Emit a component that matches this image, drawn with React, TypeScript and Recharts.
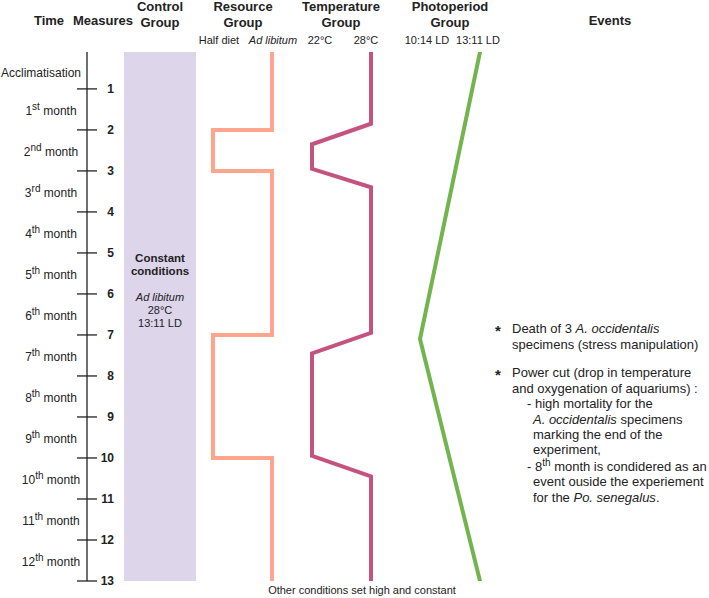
import { ComposedChart, Scatter, XAxis, YAxis, ReferenceArea } from 'recharts';

// measure axis
const START = 0.1;
const MEASURES = [1, 2, 3, 4, 5, 6, 7, 8, 9, 10, 11, 12, 13];
const PERIODS = ['Acclimatisation', '1st', '2nd', '3rd', '4th', '5th', '6th', '7th', '8th', '9th', '10th', '11th', '12th'];
const PERIOD_MIDS = PERIODS.map((_, i) => ((i === 0 ? START : MEASURES[i - 1]) + MEASURES[i]) / 2);

// resource group: 0 = half diet, 1 = ad libitum
const RESOURCE_M = [START, 2, 2, 3, 3, 7, 7, 10, 10, 13];
const RESOURCE_LEVEL = [1, 1, 0, 0, 1, 1, 0, 0, 1, 1];

// temperature group (°C)
const TEMP_M = [START, 1.85, 2.35, 2.95, 3.4, 6.95, 7.45, 9.95, 10.45, 13];
const TEMP_C = [28, 28, 22, 22, 28, 28, 22, 22, 28, 28];

// photoperiod group (hours of light)
const PHOTO_M = [START, 7.1, 13];
const PHOTO_LIGHT = [13, 10, 13];

const resourceData = RESOURCE_M.map((m, i) => ({ m, x: RESOURCE_LEVEL[i] }));
const tempData = TEMP_M.map((m, i) => ({ m, x: TEMP_C[i] }));
const photoData = PHOTO_M.map((m, i) => ({ m, x: PHOTO_LIGHT[i] }));
const axisTicks = [...MEASURES, ...PERIOD_MIDS].sort((a, b) => a - b);

const W = 709;
const H = 598;
const Y_AXIS_W = 30;
const MARGIN = { top: 52, right: 0, bottom: 17, left: 87 - Y_AXIS_W };
const PLOT_LEFT = MARGIN.left + Y_AXIS_W;
const PLOT_W = W - PLOT_LEFT - MARGIN.right;
const FONT = '"Liberation Sans", Arial, sans-serif';
const INK = '#222';

const COL_CONTROL = '#DDD5EA';
const COL_RESOURCE = '#FFA58D';
const COL_TEMP = '#C4547F';
const COL_PHOTO = '#74B44F';

// place lowVal at lowPx and highVal at highPx on a hidden axis
function domainFor(lowVal: number, highVal: number, lowPx: number, highPx: number): [number, number] {
  const pxPerUnit = (highPx - lowPx) / (highVal - lowVal);
  const a = lowVal - (lowPx - PLOT_LEFT) / pxPerUnit;
  return [a, a + PLOT_W / pxPerUnit];
}

const EmptyShape = () => <g />;

function AxisTick(props: any) {
  const { x, y, payload } = props;
  const v = payload.value;
  if (Number.isInteger(v)) {
    return (
      <g>
        <line x1={x - 10} x2={x + 10} y1={y} y2={y} stroke={INK} strokeWidth={1.3} />
        <text x={x + 27} y={y} dy="0.35em" textAnchor="end" fontWeight="bold" fontSize={12} fill={INK} fontFamily={FONT}>
          {v}
        </text>
      </g>
    );
  }
  const index = PERIOD_MIDS.indexOf(v);
  const label = PERIODS[index];
  if (index === 0) {
    return (
      <text x={x - 6} y={y + 2} dy="0.35em" textAnchor="end" fontSize={12} fill={INK} fontFamily={FONT}>
        {label}
      </text>
    );
  }
  const num = label.replace(/\D+$/, '');
  const sup = label.slice(num.length);
  return (
    <text x={x - 36} y={y + 1} dy="0.35em" textAnchor="middle" fontSize={12} fill={INK} fontFamily={FONT}>
      {num}
      <tspan fontSize={10} dy={-5}>{sup}</tspan>
      <tspan dy={5}> month</tspan>
    </text>
  );
}

function T(props: any) {
  const { children, ...rest } = props;
  return (
    <text dominantBaseline="central" fill={INK} fontFamily={FONT} {...rest}>
      {children}
    </text>
  );
}

function Overlay() {
  const hb = { fontSize: 13, fontWeight: 'bold', textAnchor: 'middle' };
  const sub = { fontSize: 11, textAnchor: 'middle' };
  const ev = { fontSize: 13 };
  return (
    <svg width={W} height={H} style={{ position: 'absolute', left: 0, top: 0, pointerEvents: 'none' }}>
      <T x={49} y={20} {...hb}>Time</T>
      <T x={103} y={20} {...hb}>Measures</T>
      <T x={160} y={6} {...hb}>Control</T>
      <T x={160} y={22} {...hb}>Group</T>
      <T x={243} y={6} {...hb}>Resource</T>
      <T x={243} y={22} {...hb}>Group</T>
      <T x={341} y={6} {...hb}>Temperature</T>
      <T x={341} y={22} {...hb}>Group</T>
      <T x={450} y={6} {...hb}>Photoperiod</T>
      <T x={450} y={22} {...hb}>Group</T>
      <T x={610} y={20} {...hb}>Events</T>

      <T x={219} y={40} {...sub}>Half diet</T>
      <T x={273} y={40} {...sub} fontStyle="italic">Ad libitum</T>
      <T x={320} y={40} {...sub}>22°C</T>
      <T x={366} y={40} {...sub}>28°C</T>
      <T x={427} y={40} {...sub}>10:14 LD</T>
      <T x={478} y={40} {...sub}>13:11 LD</T>

      <T x={160} y={258} fontSize={11.5} fontWeight="bold" textAnchor="middle">Constant</T>
      <T x={160} y={271} fontSize={11.5} fontWeight="bold" textAnchor="middle">conditions</T>
      <T x={160} y={297} fontSize={11} fontStyle="italic" textAnchor="middle">Ad libitum</T>
      <T x={160} y={310} fontSize={11} textAnchor="middle">28°C</T>
      <T x={160} y={323} fontSize={11} textAnchor="middle">13:11 LD</T>

      <T x={498} y={330} fontSize={15} fontWeight="bold" textAnchor="middle">*</T>
      <T x={512} y={328} {...ev}>Death of 3 <tspan fontStyle="italic">A. occidentalis</tspan></T>
      <T x={512} y={344} {...ev}>specimens (stress manipulation)</T>
      <T x={498} y={374} fontSize={15} fontWeight="bold" textAnchor="middle">*</T>
      <T x={512} y={372} {...ev}>Power cut (drop in temperature</T>
      <T x={512} y={388} {...ev}>and oxygenation of aquariums) :</T>
      <T x={527} y={403} {...ev}>- high mortality for the</T>
      <T x={533} y={419} {...ev}><tspan fontStyle="italic">A. occidentalis</tspan> specimens</T>
      <T x={533} y={434} {...ev}>marking the end of the</T>
      <T x={533} y={449} {...ev}>experiment,</T>
      <T x={527} y={466} {...ev}>- 8<tspan fontSize={10} dy={-4}>th</tspan><tspan dy={4}> month is condidered as an</tspan></T>
      <T x={533} y={481} {...ev}>event ouside the experiement</T>
      <T x={533} y={497} {...ev}>for the <tspan fontStyle="italic">Po. senegalus</tspan>.</T>

      <T x={362} y={590} fontSize={11} textAnchor="middle">Other conditions set high and constant</T>
    </svg>
  );
}

export default function App() {
  const lineStyle = (stroke: string) => ({ stroke, strokeWidth: 4, strokeLinecap: 'round', strokeLinejoin: 'miter' });
  return (
    <div style={{ position: 'absolute', left: 0, top: 0, width: W, height: H, background: '#fff' }}>
      <ComposedChart width={W} height={H} margin={MARGIN}>
        <XAxis xAxisId="ctrl" type="number" dataKey="x" hide domain={domainFor(0, 1, 124, 196)} allowDataOverflow />
        <XAxis xAxisId="res" type="number" dataKey="x" hide domain={domainFor(0, 1, 213, 272)} allowDataOverflow />
        <XAxis xAxisId="temp" type="number" dataKey="x" hide domain={domainFor(22, 28, 312, 371)} allowDataOverflow />
        <XAxis xAxisId="photo" type="number" dataKey="x" hide domain={domainFor(10, 13, 420, 480)} allowDataOverflow />
        <YAxis
          yAxisId="m"
          type="number"
          dataKey="m"
          reversed
          width={Y_AXIS_W}
          domain={[START, 13]}
          ticks={axisTicks}
          interval={0}
          allowDataOverflow
          tickLine={false}
          tickSize={0}
          tickMargin={0}
          axisLine={{ stroke: INK, strokeWidth: 1.3 }}
          tick={<AxisTick />}
        />
        <ReferenceArea xAxisId="ctrl" yAxisId="m" x1={0} x2={1} y1={START} y2={13} fill={COL_CONTROL} fillOpacity={1} stroke="none" />
        <Scatter xAxisId="res" yAxisId="m" data={resourceData} fill={COL_RESOURCE} line={lineStyle(COL_RESOURCE)} lineType="joint" shape={EmptyShape} isAnimationActive={false} />
        <Scatter xAxisId="temp" yAxisId="m" data={tempData} fill={COL_TEMP} line={lineStyle(COL_TEMP)} lineType="joint" shape={EmptyShape} isAnimationActive={false} />
        <Scatter xAxisId="photo" yAxisId="m" data={photoData} fill={COL_PHOTO} line={lineStyle(COL_PHOTO)} lineType="joint" shape={EmptyShape} isAnimationActive={false} />
      </ComposedChart>
      <Overlay />
    </div>
  );
}
